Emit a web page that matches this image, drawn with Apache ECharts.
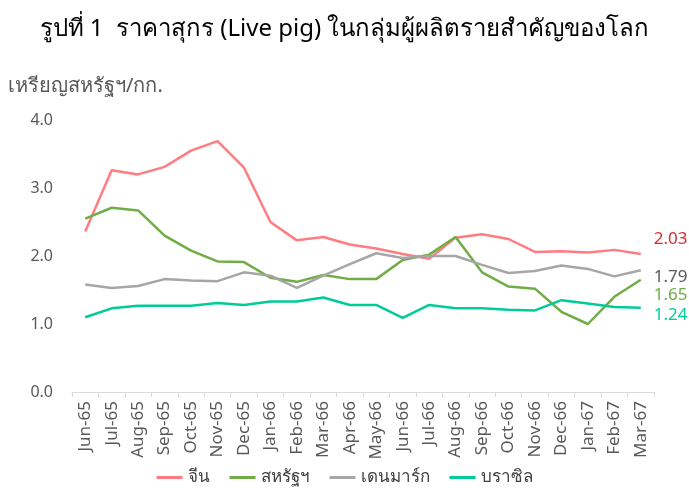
<!DOCTYPE html>
<html>
<head>
<meta charset="utf-8">
<script src="https://cdn.jsdelivr.net/npm/echarts@6/dist/echarts.min.js"></script>
<style>
  html, body { margin: 0; padding: 0; background: #fff; }
  #chart { width: 689px; height: 493px; }
</style>
</head>
<body>
<div id="chart"></div>
<script>
//Données
const months = ['Jun-65','Jul-65','Aug-65','Sep-65','Oct-65','Nov-65','Dec-65','Jan-66','Feb-66','Mar-66','Apr-66',
  'May-66','Jun-66','Jul-66','Aug-66','Sep-66','Oct-66','Nov-66','Dec-66','Jan-67','Feb-67','Mar-67'];
const china   = [2.36,3.26,3.20,3.31,3.55,3.69,3.30,2.50,2.23,2.28,2.17,2.11,2.03,1.96,2.27,2.32,2.25,2.06,2.07,2.05,2.09,2.03];
const usa     = [2.55,2.71,2.67,2.30,2.08,1.92,1.91,1.68,1.62,1.72,1.66,1.66,1.94,2.02,2.28,1.76,1.55,1.52,1.18,1.00,1.40,1.65];
const denmark = [1.58,1.53,1.56,1.66,1.64,1.63,1.76,1.71,1.53,1.71,1.88,2.04,1.97,2.00,2.00,1.87,1.75,1.78,1.86,1.81,1.70,1.79];
const brazil  = [1.10,1.23,1.27,1.27,1.27,1.31,1.28,1.33,1.33,1.39,1.28,1.28,1.09,1.28,1.23,1.23,1.21,1.20,1.35,1.30,1.25,1.24];

const font = '"Noto Sans", sans-serif';
const chart = echarts.init(document.getElementById('chart'));

//Une série par pays, avec étiquette de fin
function serie(name, data, color, labelColor, dy) {
  return {
    name, type: 'line', data,
    symbol: 'none',
    lineStyle: { color, width: 2.5 },
    itemStyle: { color },
    endLabel: {
      show: true,
      formatter: p => p.value.toFixed(2),
      color: labelColor,
      fontSize: 17,
      fontFamily: font,
      offset: [5, dy]
    }
  };
}

chart.setOption({
  animation: false,
  title: {
    text: 'รูปที่ 1  ราคาสุกร (Live pig) ในกลุ่มผู้ผลิตรายสำคัญของโลก',
    left: 'center', top: 12,
    textStyle: { fontSize: 24, fontWeight: 'normal', color: '#000', fontFamily: font }
  },
  legend: {
    bottom: 2, left: 'center',
    itemWidth: 26, itemHeight: 3, itemGap: 20,
    icon: 'rect',
    textStyle: { fontSize: 17, color: '#404040', fontFamily: font },
    data: ['จีน','สหรัฐฯ','เดนมาร์ก','บราซิล']
  },
  grid: { left: 72, right: 35, top: 120, bottom: 101 },
  xAxis: {
    type: 'category',
    data: months,
    axisLine: { lineStyle: { color: '#d9d9d9' } },
    axisTick: { show: true, length: 5, lineStyle: { color: '#d9d9d9' } },
    axisLabel: { rotate: 90, interval: 0, fontSize: 17, color: '#595959', fontFamily: font, margin: 9 }
  },
  yAxis: {
    type: 'value',
    min: 0, max: 4, interval: 1,
    name: 'เหรียญสหรัฐฯ/กก.',
    nameLocation: 'end',
    nameGap: 24,
    nameTextStyle: { fontSize: 20, color: '#595959', fontFamily: font, align: 'left', padding: [0, 0, 0, -64] },
    axisLine: { show: false },
    axisTick: { show: false },
    splitLine: { show: false },
    axisLabel: { formatter: v => v.toFixed(1), fontSize: 16, color: '#595959', fontFamily: font, margin: 19 }
  },
  series: [
    serie('จีน', china, '#ff7c80', '#d62e2e', -15),
    serie('สหรัฐฯ', usa, '#70ad47', '#70ad47', 15),
    serie('เดนมาร์ก', denmark, '#a6a6a6', '#595959', 7),
    serie('บราซิล', brazil, '#00cc99', '#00cc99', 7)
  ]
});

window.addEventListener('resize', () => chart.resize());
</script>
</body>
</html>
